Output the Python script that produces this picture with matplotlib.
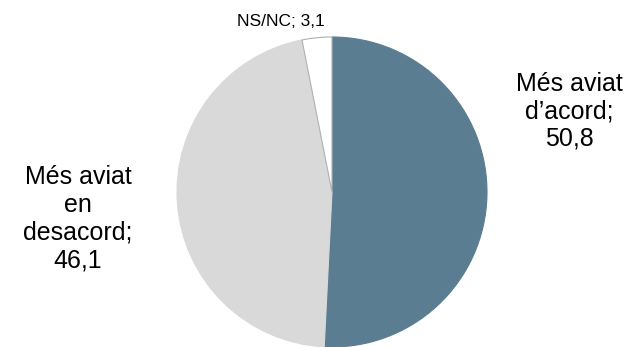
import matplotlib
matplotlib.use("Agg")
import matplotlib.pyplot as plt

plt.rcParams['font.family'] = ['Liberation Sans', 'DejaVu Sans']

labels = ["Més aviat\nd\u2019acord;\n50,8", "Més aviat\nen\ndesacord;\n46,1", "NS/NC; 3,1"]
values = [50.8, 46.1, 3.1]
colors = ["#5B7D91", "#D9D9D9", "#FFFFFF"]

W, H = 637, 347
fig = plt.figure(figsize=(W / 100, H / 100), dpi=100)

# pie centre and radius in pixels (from top-left)
cx, cy, r = 332, 192, 155
ax = fig.add_axes([(cx - r) / W, (H - cy - r) / H, 2 * r / W, 2 * r / H])
wedges, _ = ax.pie(values, colors=colors, startangle=90, counterclock=False,
                   radius=1, wedgeprops=dict(linewidth=0.8))
wedges[0].set_edgecolor("#5B7D91")
wedges[1].set_edgecolor("#D9D9D9")
wedges[2].set_edgecolor("#B0B0B0")
wedges[2].set_zorder(3)
ax.set_xlim(-1, 1)
ax.set_ylim(-1, 1)
ax.set_aspect("equal")
ax.axis("off")

# labels placed in figure pixel positions
fig.text(569 / W, 1 - 111 / H, labels[0], ha="center", va="center",
         multialignment="center", fontsize=18, linespacing=1.18)
fig.text(78 / W, 1 - 219 / H, labels[1], ha="center", va="center",
         multialignment="center", fontsize=18, linespacing=1.2)
fig.text(281 / W, 1 - 21 / H, labels[2], ha="center", va="center",
         fontsize=12.5)

fig.savefig("out.png", dpi=100)
